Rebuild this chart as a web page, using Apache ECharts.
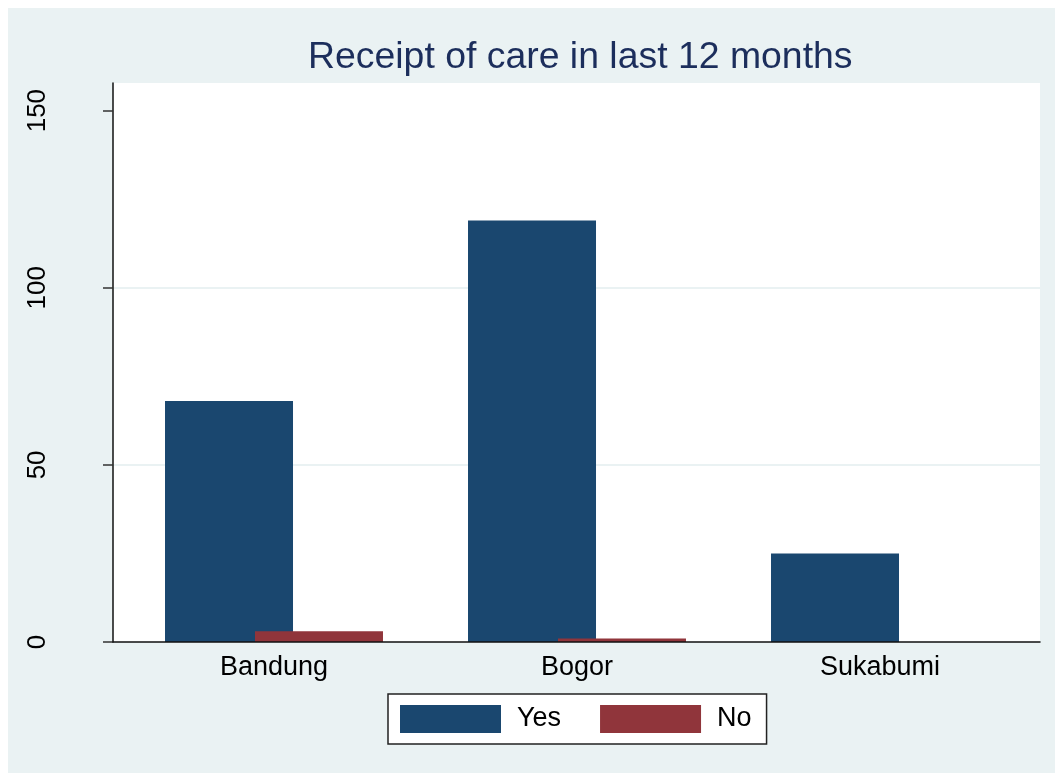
<!DOCTYPE html>
<html>
<head>
<meta charset="utf-8">
<script src="https://cdn.jsdelivr.net/npm/echarts@6/dist/echarts.min.js"></script>
<style>
  html, body { margin: 0; padding: 0; background: #ffffff; }
  #chart { position: absolute; left: 8px; top: 8px; width: 1047px; height: 765px; }
</style>
</head>
<body>
<div id="chart"></div>
<script>
// Chart content
const titleText = 'Receipt of care in last 12 months';
const regions = ['Bandung', 'Bogor', 'Sukabumi'];
const seriesNames = ['Yes', 'No'];
const yesCounts = [68, 119, 25];
const noCounts = [3, 1, 0];
const yTicks = [0, 50, 100, 150];
const yMax = 157.8;

const FONT = '"Liberation Sans", Arial, Helvetica, sans-serif';
const NAVY = '#1a476f';
const MAROON = '#90353b';
const GRID_LINE = '#eaf2f3';

const chart = echarts.init(document.getElementById('chart'), null, { renderer: 'canvas' });

const option = {
  backgroundColor: '#eaf2f3',
  animation: false,
  textStyle: { fontFamily: FONT },
  title: {
    text: titleText,
    left: 300,
    top: 31,
    padding: 0,
    textStyle: { fontFamily: FONT, fontSize: 37.4, fontWeight: 'normal', color: '#1c2e5c' }
  },
  legend: {
    data: seriesNames,
    left: 380,
    top: 686,
    orient: 'horizontal',
    icon: 'rect',
    itemWidth: 101,
    itemHeight: 28,
    itemGap: 39,
    padding: [11, 15, 11, 12],
    backgroundColor: '#ffffff',
    borderColor: '#222222',
    borderWidth: 1.5,
    selectedMode: false,
    textStyle: { fontFamily: FONT, fontSize: 27, color: '#000000', padding: [0, 0, 0, 11] }
  },
  grid: [
    // plot region: white panel, y axis and baseline
    { left: 105, top: 75, width: 927, height: 559, show: true, backgroundColor: '#ffffff', borderWidth: 0, containLabel: false },
    // bar placement
    { left: 114.5, top: 75, width: 909, height: 559, show: false, containLabel: false }
  ],
  xAxis: [
    {
      gridIndex: 0,
      type: 'category',
      data: regions,
      z: 5,
      axisLine: { show: true, lineStyle: { color: '#111111', width: 1.5 } },
      axisTick: { show: false },
      axisLabel: { show: false },
      splitLine: { show: false }
    },
    {
      gridIndex: 1,
      type: 'category',
      data: regions,
      axisLine: { show: false },
      axisTick: { show: false },
      axisLabel: { show: true, fontFamily: FONT, fontSize: 27, color: '#000000', margin: 12 },
      splitLine: { show: false }
    }
  ],
  yAxis: [
    {
      gridIndex: 0,
      type: 'value',
      min: 0,
      max: yMax,
      interval: 50,
      axisLine: { show: true, lineStyle: { color: '#111111', width: 1.5 } },
      axisTick: { show: true, length: 10, customValues: yTicks, lineStyle: { color: '#333333', width: 1.5 } },
      axisLabel: {
        show: true,
        customValues: yTicks,
        rotate: 90,
        margin: 62,
        fontFamily: FONT,
        fontSize: 26,
        color: '#000000'
      },
      splitLine: {
        show: true,
        lineStyle: { color: ['transparent', GRID_LINE, GRID_LINE, 'transparent', 'transparent'], width: 2 }
      }
    },
    {
      gridIndex: 1,
      type: 'value',
      min: 0,
      max: yMax,
      show: false,
      splitLine: { show: false }
    }
  ],
  series: [
    {
      name: seriesNames[0],
      type: 'bar',
      xAxisIndex: 1,
      yAxisIndex: 1,
      data: yesCounts,
      barWidth: 128,
      barGap: '-29.7%',
      itemStyle: { color: NAVY }
    },
    {
      name: seriesNames[1],
      type: 'bar',
      xAxisIndex: 1,
      yAxisIndex: 1,
      data: noCounts,
      barWidth: 128,
      barGap: '-29.7%',
      itemStyle: { color: MAROON }
    }
  ]
};

chart.setOption(option);
</script>
</body>
</html>
